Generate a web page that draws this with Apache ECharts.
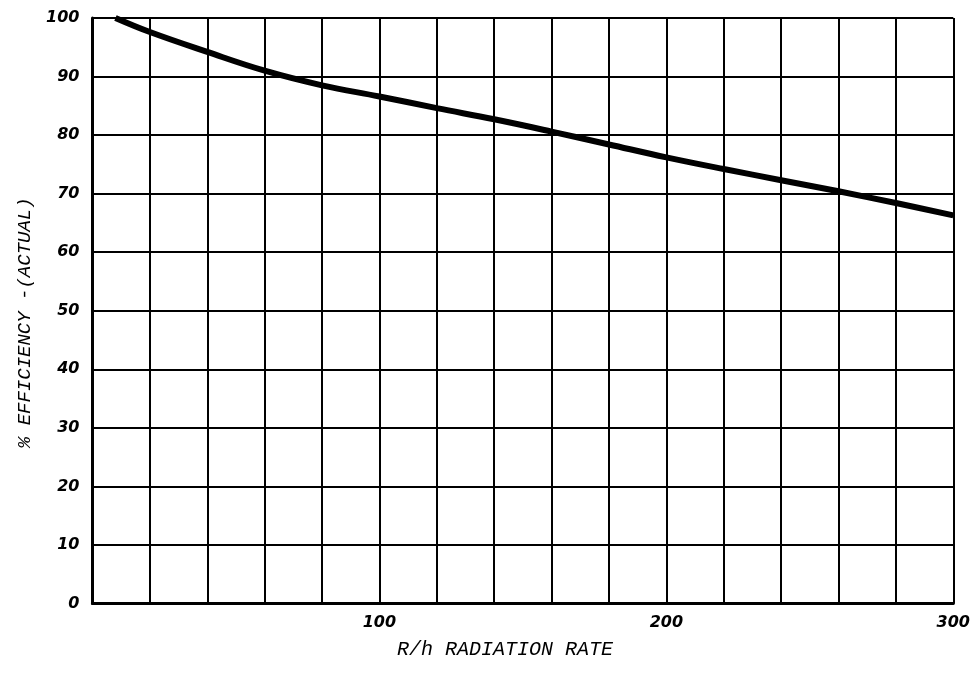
<!DOCTYPE html>
<html>
<head>
<meta charset="utf-8">
<script src="https://cdn.jsdelivr.net/npm/echarts@6/dist/echarts.min.js"></script>
<style>html,body{margin:0;padding:0;background:#fff;}#c{width:973px;height:683px;}</style>
</head>
<body>
<div id="c"></div>
<script>
const rateValues = [8, 20, 40, 60, 80, 100, 120, 140, 160, 180, 200, 220, 240, 260, 280, 300];
const efficiencyValues = [100, 97.6, 94.2, 91.0, 88.5, 86.6, 84.6, 82.7, 80.6, 78.4, 76.2, 74.2, 72.3, 70.4, 68.4, 66.3];
const xLabelValues = [100, 200, 300];
const xAxisName = 'R/h RADIATION RATE';
const yAxisName = '% EFFICIENCY -(ACTUAL)';

const chart = echarts.init(document.getElementById('c'));
const tickFont = {color: '#000', fontFamily: 'DejaVu Sans', fontStyle: 'italic', fontWeight: 'bold', fontSize: 16};
chart.setOption({
  animation: false,
  backgroundColor: '#fff',
  grid: {left: 92.5, right: 15, top: 18, bottom: 79.5},
  xAxis: {
    type: 'value', min: 0, max: 300, interval: 20,
    name: xAxisName, nameLocation: 'middle', nameGap: 36,
    nameTextStyle: {color: '#000', fontFamily: 'Liberation Mono', fontStyle: 'italic', fontSize: 20, padding: [0, 36, 0, 0]},
    axisLine: {show: true, lineStyle: {color: '#000', width: 3}},
    axisTick: {show: false},
    splitLine: {show: true, lineStyle: {color: '#000', width: 2}},
    axisLabel: Object.assign({margin: 11, showMinLabel: true, showMaxLabel: true,
      formatter: v => xLabelValues.includes(v) ? String(v) : ''}, tickFont)
  },
  yAxis: {
    type: 'value', min: 0, max: 100, interval: 10,
    name: yAxisName, nameLocation: 'middle', nameGap: 58, nameRotate: 90,
    nameTextStyle: {color: '#000', fontFamily: 'Liberation Mono', fontStyle: 'italic', fontSize: 19, padding: [0, 24, 0, 0]},
    axisLine: {show: true, lineStyle: {color: '#000', width: 3}},
    axisTick: {show: false},
    splitLine: {show: true, lineStyle: {color: '#000', width: 2}},
    axisLabel: Object.assign({margin: 13}, tickFont)
  },
  series: [{
    type: 'line', smooth: 0.4, symbol: 'none',
    lineStyle: {color: '#000', width: 6},
    data: rateValues.map((x, i) => [x, efficiencyValues[i]])
  }]
});
</script>
</body>
</html>
